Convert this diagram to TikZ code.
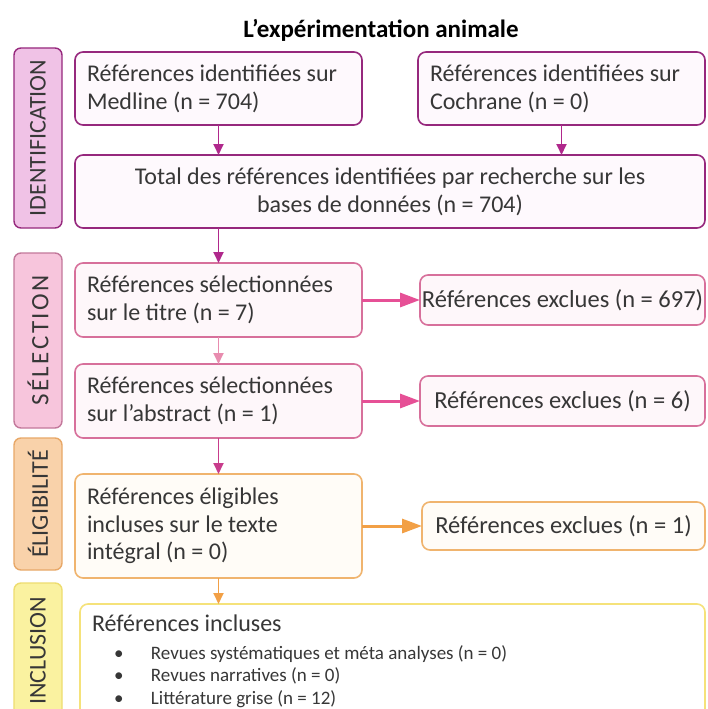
\documentclass[tikz,border=0pt]{standalone}
\usepackage{fontspec}
\setmainfont{Carlito}
\usepackage{xcolor}
\usetikzlibrary{arrows.meta,positioning}

\definecolor{ink}{RGB}{55,55,55}
\definecolor{idline}{RGB}{150,40,125}
\definecolor{idfill}{RGB}{254,249,253}
\definecolor{idside}{RGB}{240,194,230}
\definecolor{idarr}{RGB}{176,40,140}
\definecolor{selline}{RGB}{215,112,155}
\definecolor{selfill}{RGB}{254,247,250}
\definecolor{selside}{RGB}{247,197,220}
\definecolor{selsideline}{RGB}{195,120,155}
\definecolor{selarr}{RGB}{230,80,150}
\definecolor{sellight}{RGB}{232,140,175}
\definecolor{abarr}{RGB}{200,60,140}
\definecolor{eligline}{RGB}{240,180,110}
\definecolor{eligfill}{RGB}{255,252,247}
\definecolor{eligside}{RGB}{249,210,170}
\definecolor{eligsideline}{RGB}{232,168,104}
\definecolor{eligarr}{RGB}{242,160,70}
\definecolor{inclline}{RGB}{245,226,122}
\definecolor{inclside}{RGB}{250,242,160}
\definecolor{inclsideline}{RGB}{238,221,112}

\newcommand{\incitem}[1]{\hspace*{22pt}\makebox[37pt][l]{\textbullet}#1}

\begin{document}
\begin{tikzpicture}[
  x=1pt, y=-1pt,
  font=\fontsize{24}{28}\selectfont,
  box/.style={rounded corners=8pt, line width=1.6pt, outer sep=0pt, fill=white, text=ink, inner xsep=12pt, inner ysep=4pt},
  idbox/.style={box, draw=idline, fill=idfill},
  selbox/.style={box, draw=selline, fill=selfill},
  eligbox/.style={box, draw=eligline, fill=eligfill},
  inclbox/.style={box, draw=inclline},
  narrow/.style={text width=263pt, minimum height=74pt, align=flush left},
  wide/.style={text width=606pt, minimum height=73pt, align=flush center},
  exclbox/.style={minimum width=285pt, inner xsep=0pt, minimum height=50pt, font=\fontsize{24.5}{29}\selectfont},
  phase/.style={rotate=90, rounded corners=7pt, line width=1.4pt, minimum height=48pt, inner sep=0pt, outer sep=0pt, text=ink},
  idarrow/.style={-{Triangle[length=11pt,width=10pt]}, line width=1.8pt, draw=idarr},
  selarrow/.style={-{Triangle[length=20pt,width=14pt]}, line width=3pt, draw=selarr},
  sellightarrow/.style={-{Triangle[length=11pt,width=10pt]}, line width=1.8pt, draw=sellight},
  abarrow/.style={-{Triangle[length=11pt,width=10pt]}, line width=1.8pt, draw=abarr},
  eligarrow/.style={-{Triangle[length=11pt,width=10pt]}, line width=1.8pt, draw=eligarr},
  eligwidearrow/.style={-{Triangle[length=20pt,width=14pt]}, line width=3pt, draw=eligarr},
]
\clip (0,0) rectangle (708,709);
\fill[white] (0,0) rectangle (708,709);

\node[font=\fontsize{25}{29}\selectfont\bfseries] (title) at (381,30) {L’expérimentation animale};

\node[phase, fill=idside, draw=idline, minimum width=180pt, font=\fontsize{24}{27}\selectfont] (ident) at (38,138) {IDENTIFICATION};
\node[phase, fill=selside, draw=selsideline, minimum width=175pt, font=\fontsize{25}{28}\selectfont\addfontfeatures{LetterSpace=10}] (select) at (38,340.5) {SÉLECTION};
\node[phase, fill=eligside, draw=eligsideline, minimum width=132pt, font=\fontsize{24}{27}\selectfont] (eligi) at (38,504) {ÉLIGIBILITÉ};
\node[phase, fill=inclside, draw=inclsideline, minimum width=136pt, font=\fontsize{24}{27}\selectfont] (inclu) at (38,651) {INCLUSION};

\node[idbox, narrow, minimum height=73pt] (medline) at (218.5,88.5) {Références identifiées sur\\Medline (n = 704)};
\node[idbox, narrow, minimum height=73pt, right=56pt of medline] (cochrane) {Références identifiées sur\\Cochrane (n = 0)};
\node[idbox, wide, below=30pt of medline.south west, anchor=north west] (total) {Total des références identifiées par recherche sur les\\bases de données (n = 704)};
\draw[idarrow] (medline) -- (total.north -| medline);
\draw[idarrow] (cochrane) -- (total.north -| cochrane);

\node[selbox, narrow, below=35pt of total.south west, anchor=north west] (titre) {Références sélectionnées\\sur le titre (n = 7)};
\node[selbox, narrow, below=27pt of titre] (abstract) {Références sélectionnées\\sur l’abstract (n = 1)};
\node[selbox, exclbox, right=58pt of titre] (exclT) {Références exclues (n = 697)};
\node[selbox, exclbox, right=58pt of abstract] (exclA) {Références exclues (n = 6)};
\draw[idarrow] (total.south -| titre.north) -- (titre.north);
\draw[sellightarrow] (titre) -- (abstract);
\draw[selarrow] (titre.east) -- (titre.east -| exclT.west);
\draw[selarrow] (abstract.east) -- (abstract.east -| exclA.west);

\node[eligbox, narrow, minimum height=104pt, font=\fontsize{24}{27.5}\selectfont, below=36pt of abstract] (elig) {Références éligibles\\incluses sur le texte\\intégral (n = 0)};
\node[eligbox, exclbox, minimum width=283pt, minimum height=48pt, right=60pt of elig] (exclE) {Références exclues (n = 1)};
\draw[abarrow] (abstract) -- (elig);
\draw[eligwidearrow] (elig.east) -- (elig.east -| exclE.west);

\node[inclbox, text width=601pt, minimum height=114pt, align=flush left, below=26pt of elig.south west, anchor=north west, xshift=5pt] (incl) {Références incluses\\[0pt]
\parbox[t]{560pt}{\fontsize{19}{22.5}\selectfont\incitem{Revues systématiques et méta analyses (n = 0)}\\
\incitem{Revues narratives (n = 0)}\\
\incitem{Littérature grise (n = 12)}}};
\draw[eligarrow] (elig) -- (incl.north -| elig);
\end{tikzpicture}
\end{document}
